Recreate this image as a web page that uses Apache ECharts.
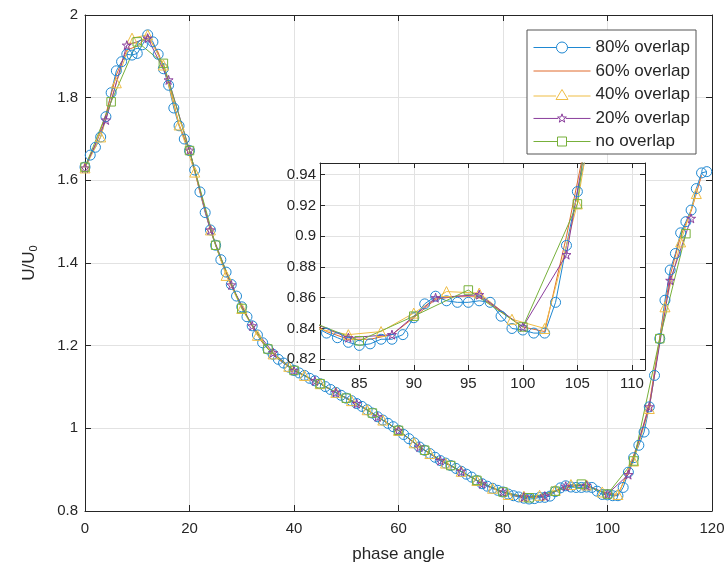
<!DOCTYPE html>
<html>
<head>
<meta charset="utf-8">
<script src="https://cdn.jsdelivr.net/npm/echarts@6/dist/echarts.min.js"></script>
<style>html,body{margin:0;padding:0;background:#fff}#chart{width:728px;height:570px}</style>
</head>
<body>
<div id="chart"></div>
<script>
// ---- data ----
const seriesNames = ['80% overlap', '60% overlap', '40% overlap', '20% overlap', 'no overlap'];
const seriesColors = ['#1f88d2', '#e06a2c', '#efbd45', '#8a3d9c', '#77b03a'];
const sampleStart = 0;
const sampleStep = [1, 2, 3, 4, 5];   // phase-angle step of each series

const u80 = [
 1.632,1.661,1.680,1.705,1.754,1.812,1.865,1.887,1.905,1.903,
 1.907,1.928,1.952,1.935,1.905,1.870,1.830,1.775,1.732,1.700,
 1.672,1.625,1.572,1.522,1.480,1.443,1.408,1.378,1.348,1.320,
 1.294,1.270,1.248,1.226,1.207,1.192,1.179,1.167,1.158,1.148,
 1.140,1.134,1.128,1.121,1.115,1.108,1.101,1.094,1.087,1.080,
 1.073,1.067,1.060,1.053,1.045,1.037,1.028,1.020,1.012,1.004,
 0.995,0.985,0.975,0.965,0.955,0.947,0.939,0.930,0.922,0.916,
 0.910,0.903,0.896,0.889,0.882,0.874,0.866,0.860,0.855,0.850,
 0.846,0.841,0.837,0.834,0.831,0.829,0.830,0.833,0.833,0.836,
 0.847,0.856,0.861,0.858,0.857,0.857,0.858,0.857,0.848,0.840,
 0.839,0.837,0.837,0.857,0.894,0.929,0.959,0.991,1.052,1.128,
 1.217,1.310,1.383,1.423,1.473,1.500,1.528,1.580,1.618,1.621
];
const u60 = [
 1.632,1.685,1.760,1.855,1.915,1.925,1.948,1.910,1.838,1.735,
 1.672,1.572,1.480,1.408,1.348,1.294,1.248,1.207,1.179,1.158,
 1.140,1.128,1.115,1.101,1.087,1.073,1.060,1.045,1.028,1.012,
 0.995,0.975,0.955,0.939,0.922,0.910,0.896,0.882,0.866,0.855,
 0.846,0.838,0.833,0.833,0.836,0.847,0.859,0.861,0.861,0.851,
 0.841,0.838,0.900,0.970,1.058,1.220,1.370,1.465,1.525,1.612
];
const u40 = [
 1.630,1.705,1.836,1.944,1.952,1.879,1.734,1.620,1.480,1.370,
 1.290,1.225,1.180,1.150,1.128,1.108,1.087,1.067,1.045,1.020,
 0.995,0.965,0.939,0.916,0.896,0.874,0.855,0.840,0.836,0.838,
 0.850,0.864,0.863,0.846,0.840,0.921,1.048,1.294,1.451,1.568
];
const u20 = [
 1.630,1.746,1.927,1.944,1.843,1.673,1.480,1.347,1.248,1.183,
 1.140,1.115,1.087,1.060,1.028,0.995,0.955,0.922,0.896,0.866,
 0.846,0.834,0.836,0.860,0.862,0.841,0.888,1.052,1.358,1.508
];
const u00 = [
 1.632,1.790,1.935,1.883,1.672,1.443,1.290,1.192,1.140,1.108,
 1.073,1.037,0.995,0.947,0.910,0.874,0.846,0.832,0.848,0.865,
 0.841,0.921,1.217,1.471
];
const seriesValues = [u80, u60, u40, u20, u00];

const mainXTicks = [0, 20, 40, 60, 80, 100, 120];
const mainYTicks = [0.8, 1, 1.2, 1.4, 1.6, 1.8, 2];
const insetXTicks = [85, 90, 95, 100, 105, 110];
const insetYTicks = [0.82, 0.84, 0.86, 0.88, 0.9, 0.92, 0.94];

// ---- styling ----
const FONT = '"Liberation Sans", Arial, Helvetica, sans-serif';
const AX = '#262626';
const GRIDC = '#e2e2e2';
const STAR = 'path://M50,0 L61,35 L98,35 L68,57 L79,91 L50,70 L21,91 L32,57 L2,35 L39,35 Z';
const symbols = ['circle', 'none', 'triangle', STAR, 'rect'];
const symSizes = [10, 0, 10, 9, 8.5];
// legend icons: line sample with the marker in the middle (57 px wide)
const legendIcons = [
  'path://M0,5.5 L23,5.5 M34,5.5 L57,5.5 M23,5.5 A5.5,5.5 0 1,1 34,5.5 A5.5,5.5 0 1,1 23,5.5 Z',
  'path://M0,5 L57,5 M0,0 M0,10',
  'path://M0,6.5 L22.5,6.5 M34.5,6.5 L57,6.5 M22.5,10 L28.5,0 L34.5,10 Z',
  'path://M0,4.6 L24.6,4.6 M32.4,4.6 L57,4.6 M28.5,0 L29.59,3.1 L32.87,3.18 L30.26,5.17 L31.2,8.32 L28.5,6.45 L25.8,8.32 L26.74,5.17 L24.13,3.18 L27.41,3.1 Z',
  'path://M0,4.5 L24,4.5 M33,4.5 L57,4.5 M24,0 L33,0 L33,9 L24,9 Z'
];

function pairs(i) {
  return seriesValues[i].map((v, k) => [sampleStart + k * sampleStep[i], v]);
}

function mkSeries(i, xi, yi, z) {
  return {
    type: 'line', name: seriesNames[i], xAxisIndex: xi, yAxisIndex: yi,
    data: pairs(i), z: z,
    symbol: i === 1 ? 'circle' : symbols[i],
    showSymbol: i !== 1,
    symbolSize: symSizes[i],
    itemStyle: { color: 'transparent', borderColor: i === 1 ? 'transparent' : seriesColors[i], borderWidth: 1 },
    lineStyle: { color: seriesColors[i], width: 1 },
    clip: true, animation: false, silent: true,
    emphasis: { disabled: true }
  };
}

function axisCommon(extra) {
  return Object.assign({
    type: 'value',
    axisLine: { show: true, onZero: false, lineStyle: { color: AX, width: 1 } },
    axisTick: { show: true, inside: true, length: 6, lineStyle: { color: AX } },
    axisLabel: { show: false },
    splitLine: { show: false }
  }, extra);
}

const labelStyle = { fontSize: 15, color: AX, fontFamily: FONT };

const xAxes = [
  axisCommon({
    gridIndex: 0, position: 'bottom', min: 0, max: 120, interval: 20,
    axisLabel: Object.assign({ show: true, margin: 10 }, labelStyle),
    splitLine: { show: true, lineStyle: { color: GRIDC, width: 1 } },
    name: 'phase angle', nameLocation: 'middle', nameGap: 35,
    nameTextStyle: { fontSize: 17, color: AX, fontFamily: FONT }
  }),
  axisCommon({ gridIndex: 0, position: 'top', min: 0, max: 120, interval: 20 }),
  axisCommon({
    gridIndex: 1, position: 'bottom', min: 81.4, max: 111.2, z: 11,
    axisTick: { show: true, inside: true, length: 5, lineStyle: { color: AX }, customValues: insetXTicks },
    axisLabel: Object.assign({ show: true, margin: 6, customValues: insetXTicks }, labelStyle),
    splitLine: { show: true, lineStyle: { color: GRIDC, width: 1 } }
  }),
  axisCommon({
    gridIndex: 1, position: 'top', min: 81.4, max: 111.2, z: 11,
    axisTick: { show: true, inside: true, length: 5, lineStyle: { color: AX }, customValues: insetXTicks }
  })
];

const yAxes = [
  axisCommon({
    gridIndex: 0, position: 'left', min: 0.8, max: 2, interval: 0.2,
    axisLabel: Object.assign({ show: true, margin: 7 }, labelStyle),
    splitLine: { show: true, lineStyle: { color: GRIDC, width: 1 } },
    name: 'U/U{s|0}', nameLocation: 'middle', nameGap: 46, nameRotate: 90,
    nameTextStyle: {
      fontSize: 17, color: AX, fontFamily: FONT,
      rich: { s: { fontSize: 11, color: AX, fontFamily: FONT, padding: [9, 0, 0, 0] } }
    }
  }),
  axisCommon({ gridIndex: 0, position: 'right', min: 0.8, max: 2, interval: 0.2 }),
  axisCommon({
    gridIndex: 1, position: 'left', min: 0.813, max: 0.9476, z: 11,
    axisTick: { show: true, inside: true, length: 5, lineStyle: { color: AX }, customValues: insetYTicks },
    axisLabel: Object.assign({ show: true, margin: 4, customValues: insetYTicks,
      formatter: v => String(+(+v).toFixed(2)) }, labelStyle),
    splitLine: { show: true, lineStyle: { color: GRIDC, width: 1 } }
  }),
  axisCommon({
    gridIndex: 1, position: 'right', min: 0.813, max: 0.9476, z: 11,
    axisTick: { show: true, inside: true, length: 5, lineStyle: { color: AX }, customValues: insetYTicks }
  })
];

const series = [];
for (let i = 0; i < 5; i++) series.push(mkSeries(i, 0, 0, 2));
for (let i = 0; i < 5; i++) series.push(mkSeries(i, 2, 2, 12));

const legendData = seriesNames.map((n, i) => ({
  name: n,
  icon: legendIcons[i],
  itemStyle: { color: 'transparent', borderColor: seriesColors[i], borderWidth: 1 }
}));

const chart = echarts.init(document.getElementById('chart'), null, { renderer: 'canvas' });
chart.setOption({
  animation: false,
  backgroundColor: '#fff',
  textStyle: { fontFamily: FONT },
  grid: [
    { left: 85, top: 15, right: 16, bottom: 59, containLabel: false },
    { left: 320, top: 163, right: 83, bottom: 200, containLabel: false,
      show: true, backgroundColor: '#fff', borderWidth: 0, z: 10 }
  ],
  xAxis: xAxes,
  yAxis: yAxes,
  legend: {
    orient: 'vertical', left: 527, top: 30,
    itemWidth: 57, itemHeight: 13, itemGap: 6.5,
    symbolKeepAspect: true,
    padding: [9, 6, 4, 6],
    backgroundColor: '#fff', borderColor: '#555', borderWidth: 1, borderRadius: 0,
    textStyle: { fontSize: 17, color: AX, fontFamily: FONT },
    selectedMode: false,
    data: legendData
  },
  series: series
});
</script>
</body>
</html>
